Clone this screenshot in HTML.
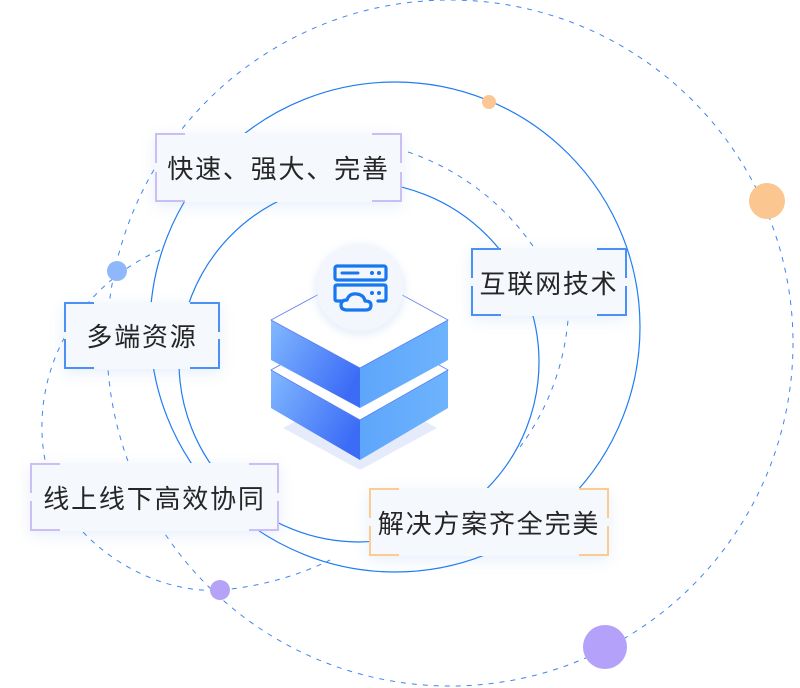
<!DOCTYPE html>
<html><head><meta charset="utf-8"><style>
html,body{margin:0;padding:0;background:#fff;}
body{width:800px;height:688px;position:relative;overflow:hidden;font-family:"Liberation Sans","Noto Sans CJK SC",sans-serif;}
svg{position:absolute;left:0;top:0;}
.box{position:absolute;background:#f5f8fd;box-shadow:0 4px 14px rgba(120,160,230,0.18);color:#262626;font-size:26px;letter-spacing:1.8px;display:flex;align-items:center;justify-content:center;box-sizing:border-box;}
.c{position:absolute;width:28px;height:28px;}
.tl{left:0;top:0;border-left:2px solid;border-top:2px solid;}
.tr{right:0;top:0;border-right:2px solid;border-top:2px solid;}
.bl{left:0;bottom:0;border-left:2px solid;border-bottom:2px solid;}
.br{right:0;bottom:0;border-right:2px solid;border-bottom:2px solid;}
.p .c{border-color:#cbbef7;}
.b .c{border-color:#4a90f5;}
.o .c{border-color:#fbcb92;}
</style></head><body>
<svg width="800" height="688" viewBox="0 0 800 688">
<defs>
<linearGradient id="lf" x1="0" y1="0" x2="1" y2="0.6"><stop offset="0" stop-color="#82b9ff"/><stop offset="1" stop-color="#3c6cf6"/></linearGradient>
<linearGradient id="rf" x1="0" y1="0" x2="1" y2="0"><stop offset="0" stop-color="#5ea6fb"/><stop offset="1" stop-color="#6db3fd"/></linearGradient>
<filter id="sh" x="-50%" y="-50%" width="200%" height="200%"><feGaussianBlur stdDeviation="4"/></filter>
</defs>
<g fill="none" stroke="#3f85ee" stroke-width="1" stroke-dasharray="5,6">
<circle cx="450" cy="343" r="343"/>
<path d="M408,152 A 250 250 0 0 1 568,320 A 250 250 0 0 1 520,447"/>
<path d="M160,250 C 70,290 30,380 45,460 C 60,540 150,595 220,590 C 260,587 300,575 330,560"/>
</g>
<g fill="none" stroke="#1f7cf2" stroke-width="1.2">
<circle cx="395" cy="327" r="245"/>
<circle cx="359" cy="362" r="180"/>
</g>
<circle cx="117" cy="271" r="10" fill="#8fb8fc"/>
<circle cx="489" cy="102" r="7" fill="#fbc895"/>
<circle cx="767" cy="201" r="18" fill="#fbc68f"/>
<circle cx="220" cy="590" r="10" fill="#b5a3f8"/>
<circle cx="605" cy="647" r="22" fill="#b4a1fa"/>
<polygon points="283,428 360,470 437,428 360,386" fill="#e6ebfc"/>
<polygon points="271,370 360,420 360,460 271,408" fill="url(#lf)"/>
<polygon points="448,370 360,420 360,460 448,408" fill="url(#rf)"/>
<polygon points="271,370 360,320 448,370 360,420" fill="#fff" stroke="#5b7cf0" stroke-width="0.8"/>
<polygon points="271,320 360,368 360,408 271,360" fill="url(#lf)"/>
<polygon points="448,320 360,368 360,408 448,360" fill="url(#rf)"/>
<polygon points="271,320 360,272 448,320 360,368" fill="#fff" stroke="#5b7cf0" stroke-width="0.8"/>
<circle cx="360" cy="290" r="46" fill="#c8d9f5" opacity="0.4" filter="url(#sh)"/>
<circle cx="360" cy="288" r="43" fill="#f3f7fd"/>
<g fill="none" stroke="#1677f0" stroke-width="3.2" stroke-linecap="round" stroke-linejoin="round">
<rect x="335" y="266" width="51" height="14" rx="2"/>
<path d="M343,301 L337,301 Q335,301 335,299 L335,287 Q335,285 337,285 L384,285 Q386,285 386,287 L386,299 Q386,301 384,301 L378,301"/>
<path d="M347,310 Q341,310 341,305 Q341,300 347,300 Q349,293 357,294 Q364,295 365,301 Q371,301 371,305 Q371,310 366,310 Z"/>
</g>
<g stroke="#1677f0" stroke-width="3" stroke-linecap="round"><line x1="342" y1="273" x2="358" y2="273"/></g>
<g fill="#1677f0"><circle cx="372" cy="273" r="2"/><circle cx="379" cy="273" r="2"/><circle cx="372" cy="293" r="2"/><circle cx="379" cy="293" r="2"/></g>
</svg>
<div class="box p" style="left:155px;top:133px;width:247px;height:69px;">快速、强大、完善<i class="c tl"></i><i class="c tr"></i><i class="c bl"></i><i class="c br"></i></div>
<div class="box b" style="left:471px;top:248px;width:156px;height:68px;">互联网技术<i class="c tl"></i><i class="c tr"></i><i class="c bl"></i><i class="c br"></i></div>
<div class="box b" style="left:64px;top:302px;width:156px;height:67px;">多端资源<i class="c tl"></i><i class="c tr"></i><i class="c bl"></i><i class="c br"></i></div>
<div class="box p" style="left:30px;top:463px;width:249px;height:68px;">线上线下高效协同<i class="c tl"></i><i class="c tr"></i><i class="c bl"></i><i class="c br"></i></div>
<div class="box o" style="left:369px;top:488px;width:240px;height:68px;">解决方案齐全完美<i class="c tl"></i><i class="c tr"></i><i class="c bl"></i><i class="c br"></i></div>
</body></html>
